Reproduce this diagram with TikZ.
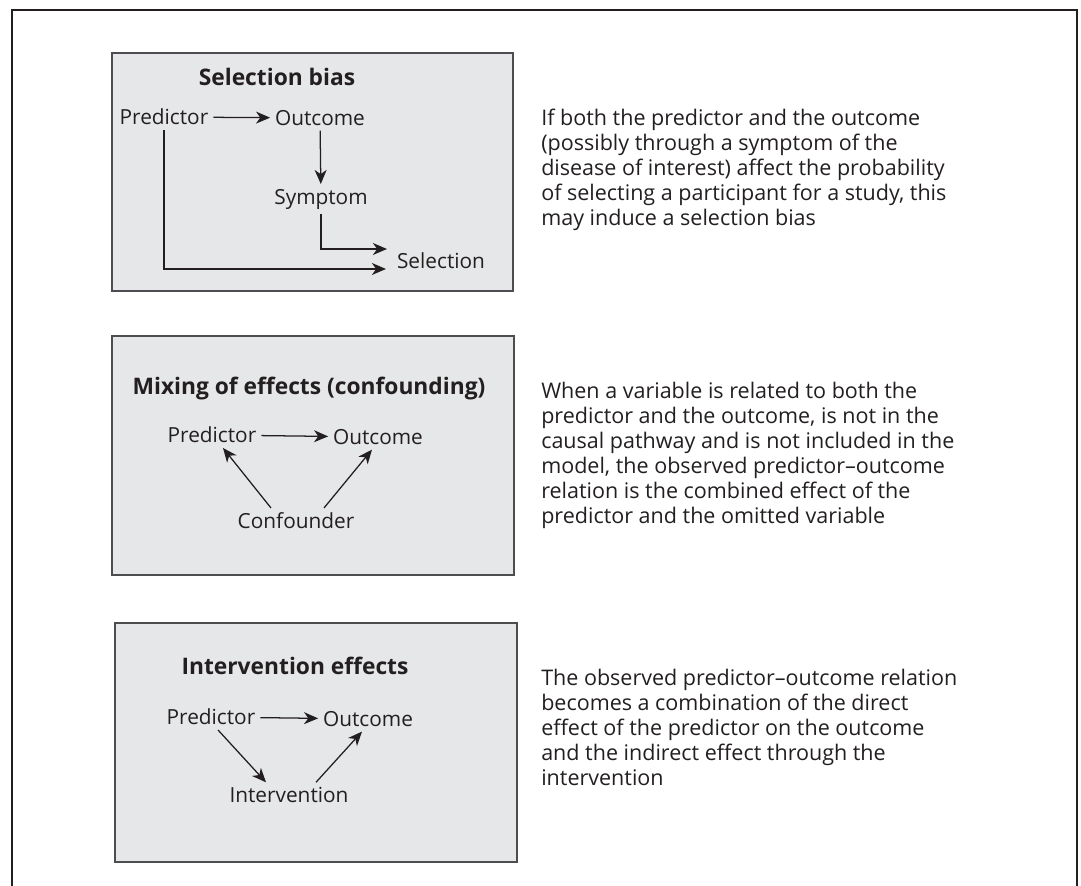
\documentclass[tikz,border=0pt]{standalone}
\usepackage{fontspec}
\setmainfont{Open Sans}
\usetikzlibrary{arrows.meta,calc}
\definecolor{boxfill}{HTML}{E6E7E8}
\definecolor{boxline}{HTML}{4D4D4F}
\definecolor{ink}{HTML}{231F20}
\tikzset{
    panel/.style={draw=boxline,fill=boxfill,line width=1.1pt},
    word/.style={text=ink,font=\fontsize{14.8}{17.8}\selectfont},
    title/.style={text=ink,font=\fontsize{16.2}{19}\selectfont\bfseries},
    note/.style={text=ink,font=\fontsize{15.3}{17.8}\selectfont,align=left,anchor=west,inner sep=0pt},
    arr/.style={draw=ink,line width=0.9pt,-{Stealth[length=10pt,width=8.5pt,inset=3pt]}},
  }
\begin{document}
\begin{tikzpicture}[x=0.025cm,y=-0.025cm]
				  \useasboundingbox (0,0) rectangle (1081,886);
				  %cadre
				  \draw[ink,line width=1.5pt] (12,886) -- (12,10) -- (1077,10) -- (1077,886);
				  %PANNEAU 1
				  \draw[panel] (112,53) rectangle (513,291);
				  \node[title](T1) at (277,77) {Selection bias};
				  \node[word](P1) at (164,117) {Predictor};
				  \node[word](O1) at (320,118) {Outcome};
				  \node[word](S1) at (321,199) {Symptom};
				  \node[word](Sel) at (441,261) {Selection};
				  \coordinate (s1) at (387,249);
				  \coordinate (s2) at (386,269);
				  \draw[arr] (P1) -- (O1);
				  \draw[arr] (O1) -- (S1);
				  \draw[arr] (S1.south) |- (s1);
				  \draw[arr] (P1.south) |- (s2);
				  \node[note](X1) at (541,170) {If both the predictor and the outcome\\(possibly through a symptom of the\\disease of interest) affect the probability\\of selecting a participant for a study, this\\may induce a selection bias};
				  %PANNEAU 2
				  \draw[panel] (112,336) rectangle (514,575);
				  \node[title](T2) at (309,389) {Mixing of effects (confounding)};
				  \node[word](P2) at (212,435) {Predictor};
				  \node[word](O2) at (378,437) {Outcome};
				  \node[word](C2) at (296,521) {Confounder};
				  \draw[arr] (P2) -- (O2);
				  \draw[arr] ($(C2.north)+(-25,0)$) -- ($(P2.south)+(11,0)$);
				  \draw[arr] ($(C2.north)+(28,0)$) -- ($(O2.south)+(-6,0)$);
				  \node[note](X2) at (541,455) {When a variable is related to both the\\predictor and the outcome, is not in the\\causal pathway and is not included in the\\model, the observed predictor–outcome\\relation is the combined effect of the\\predictor and the omitted variable};
				  %PANNEAU 3
				  \draw[panel] (115,623) rectangle (517,862);
				  \node[title](T3) at (295,666) {Intervention effects};
				  \node[word](P3) at (211,717) {Predictor};
				  \node[word](O3) at (368,719) {Outcome};
				  \node[word](I3) at (289,795) {Intervention};
				  \draw[arr] (P3) -- (O3);
				  \draw[arr] ($(P3.south)+(7,0)$) -- ($(I3.north)+(-23,0)$);
				  \draw[arr] ($(I3.north)+(27,0)$) -- ($(O3.south)+(-6,0)$);
				  \node[note](X3) at (541,727) {The observed predictor–outcome relation\\becomes a combination of the direct\\effect of the predictor on the outcome\\and the indirect effect through the\\intervention};
				  \end{tikzpicture}
\end{document}
